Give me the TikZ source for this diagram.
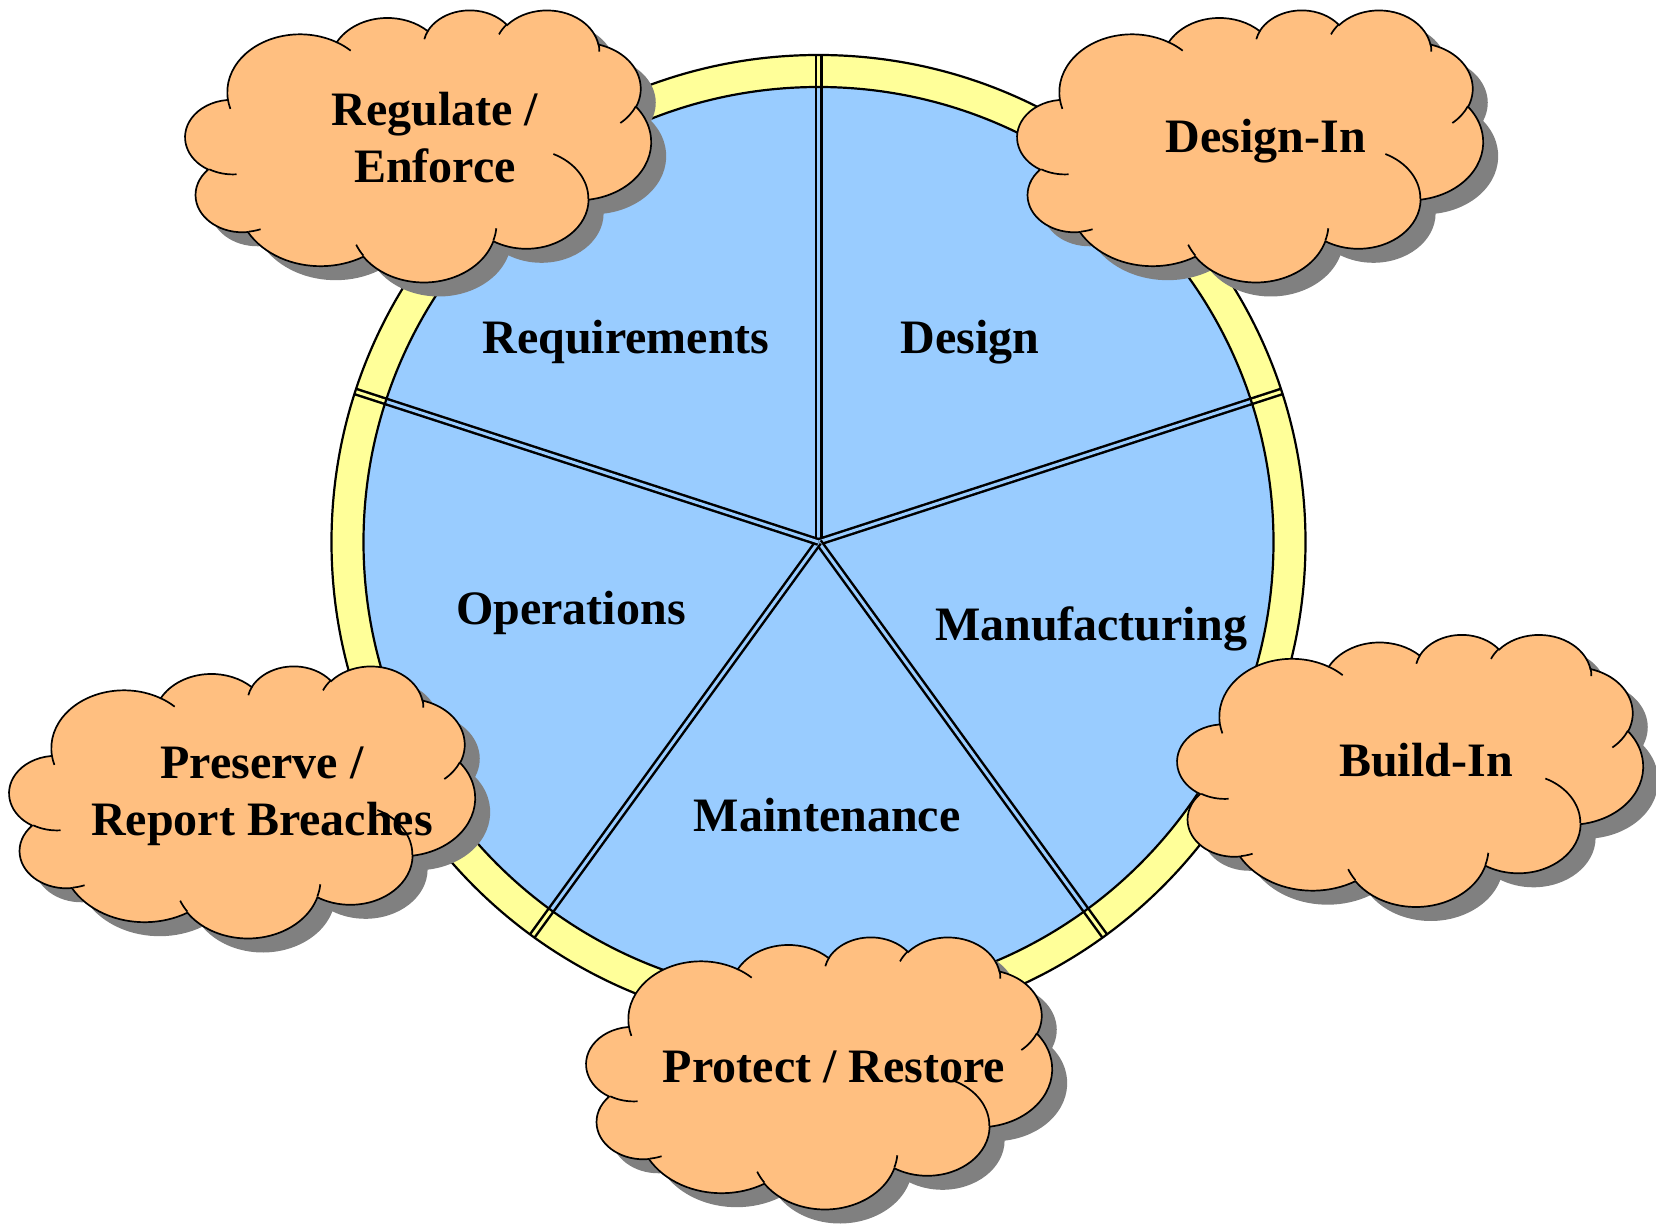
\documentclass[tikz,border=0pt]{standalone}
\usepackage{fontspec}
\setmainfont{Liberation Serif}

\definecolor{ringyellow}{HTML}{FFFF99}
\definecolor{wheelblue}{HTML}{99CCFF}
\definecolor{cloudorange}{HTML}{FFBF80}
\definecolor{shadowgrey}{HTML}{808080}

% one puff: x radius, y radius, start angle, sweep (seen angles)
\newcommand\puff[4]{%
  \pgfmathsetmacro\puffS{atan2(#1*sin(#3),#2*cos(#3))}%
  \pgfmathsetmacro\puffE{atan2(#1*sin(#3+#4),#2*cos(#3+#4))}%
  \pgfmathsetmacro\puffE{\puffE+360*(\puffE<\puffS)}%
  \pgfpatharc{\puffS}{\puffE}{#1pt and #2pt}}

% outline of the cloud in a 432pt square
\newcommand\cloudline{%
  \pgfpathmoveto{\pgfpoint{39pt}{143.7pt}}%
  \puff{67.53}{91.90}{-190.487}{123.781}%
  \puff{53.33}{72.67}{-144.102}{89.945}%
  \puff{43.65}{59.45}{-145.808}{99.723}%
  \puff{48.57}{65.95}{-130.986}{117.242}%
  \puff{53.33}{72.73}{-78.709}{109.027}%
  \puff{67.75}{92.20}{-46.267}{130.269}%
  \puff{57.85}{78.67}{0.625}{114.033}%
  \puff{67.52}{92.15}{22.452}{115.173}%
  \puff{77.20}{105.43}{66.243}{76.6}%
  \puff{43.60}{59.18}{85.058}{146.736}%
  \puff{43.45}{59.45}{113.171}{152.532}%
  \pgfpathclose}

% the short inner strokes
\newcommand\cloudfolds{%
  \pgfpathmoveto{\pgfpoint{46.93pt}{261.77pt}}\puff{43.45}{59.45}{86.742}{26.430}%
  \pgfpathmoveto{\pgfpoint{69.28pt}{348.99pt}}\puff{43.60}{59.18}{73.611}{11.447}%
  \pgfpathmoveto{\pgfpoint{164.78pt}{390.90pt}}\puff{67.52}{92.15}{137.624}{14.081}%
  \pgfpathmoveto{\pgfpoint{288.27pt}{347.51pt}}\puff{67.52}{92.15}{6.453}{15.998}%
  \pgfpathmoveto{\pgfpoint{341.29pt}{229.54pt}}\puff{57.85}{78.67}{-70.292}{70.917}%
  \pgfpathmoveto{\pgfpoint{417.98pt}{153.54pt}}\puff{53.33}{72.73}{30.318}{27.752}%
  \pgfpathmoveto{\pgfpoint{383.24pt}{54.26pt}}\puff{48.57}{65.95}{-13.744}{14.859}%
  \pgfpathmoveto{\pgfpoint{290.78pt}{39.52pt}}\puff{48.57}{65.95}{-149.181}{18.195}%
  \pgfpathmoveto{\pgfpoint{221.41pt}{47.20pt}}\puff{43.65}{59.45}{-163.494}{17.686}%
  \pgfpathmoveto{\pgfpoint{140.00pt}{51.92pt}}\puff{67.53}{91.90}{-66.707}{12.319}%
  \pgfpathmoveto{\pgfpoint{41.27pt}{157.89pt}}\puff{67.53}{91.90}{157.654}{11.858}}

% shadow and cloud centred at (#1,#2)
\newcommand\cloudat[2]{%
  \begin{scope}[shift={(#1+15,#2+14)}, cloudframe]
    \fill[shadowgrey] \pgfextra{\cloudline};
  \end{scope}
  \begin{scope}[shift={(#1,#2)}, cloudframe]
    \fill[cloudorange] \pgfextra{\cloudline};
    \draw[cloudedge] \pgfextra{\cloudline};
    \draw[cloudedge] \pgfextra{\cloudfolds};
  \end{scope}}

\begin{document}
\begin{tikzpicture}[x=0.5pt, y=-0.5pt,
    spoke/.style={draw=black, line width=1.25pt, double distance=1.5pt},
    rim/.style={draw=black, line width=1.1pt},
    cloudframe/.style={xscale=465/864, yscale=-272/864, shift={(-216pt,-216pt)}},
    cloudedge/.style={draw=black, line width=0.85pt}]
  \useasboundingbox (0,0) rectangle (1656,1224);

  % the wheel
  \coordinate (hub) at (818.5,542);
  \fill[ringyellow] (hub) circle[radius=487];
  \fill[wheelblue] (hub) circle[radius=455];
  \foreach \a [count=\i] in {-90,-18,54,126,198} {
    \path (hub) ++(\a:455) coordinate (in\i);
    \path (hub) ++(\a:487) coordinate (out\i);
    \draw[spoke, double=wheelblue] (hub) -- (in\i);
    \draw[spoke, double=ringyellow] (in\i) -- (out\i);
  }
  \draw[rim] (hub) circle[radius=487];
  \draw[rim] (hub) circle[radius=455];

  \begin{scope}[every node/.style={font=\fontsize{24}{28.5}\selectfont\bfseries, anchor=base, inner sep=0pt}]
    \node (req) at (626,354) {Requirements};
    \node (des) at (970,354) {Design};
    \node (ops) at (571,625) {Operations};
    \node (man) at (1091,641) {Manufacturing};
    \node (mnt) at (827,832) {Maintenance};
  \end{scope}

  % the clouds
  \cloudat{418.5}{145.5}
  \cloudat{1250.5}{145.5}
  \cloudat{242.5}{801.5}
  \cloudat{1410.5}{770}
  \cloudat{819.5}{1072.5}

  \begin{scope}[every node/.style={font=\fontsize{24}{28.5}\selectfont\bfseries, align=center, inner sep=0pt}]
    \node (regulate) at (435,137.5) {Regulate /\\Enforce};
    \node[anchor=base] (designin) at (1266,153) {Design-In};
    \node (preserve) at (262,796.5) {Preserve /\\Report Breaches};
    \node[anchor=base] (buildin) at (1426,777) {Build-In};
    \node[anchor=base] (protect) at (834,1082) {Protect / Restore};
  \end{scope}

\end{tikzpicture}
\end{document}
